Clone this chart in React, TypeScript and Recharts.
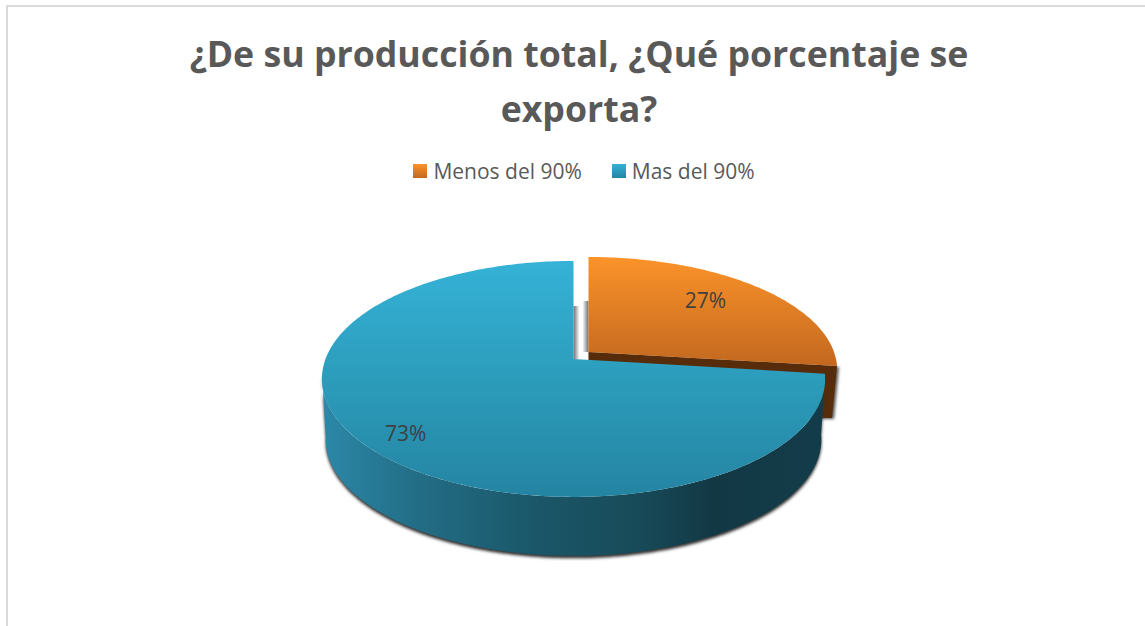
import { PieChart, Pie, Legend } from "recharts";

const CATEGORIES = ["Menos del 90%", "Mas del 90%"];
const VALUES = [27, 73];

const TITLE_LINES = ["¿De su producción total, ¿Qué porcentaje se", "exporta?"];

const chartData = CATEGORIES.map((name, i) => ({ name, value: VALUES[i] }));

const W = 1145;
const H = 626;
const CX = 573.5;
const CY = 359;
const R = 248;
const FONT = "'Open Sans', sans-serif";

// the look of each slice: how it is pulled out and how the perspective squashes it
const ORANGE = { dx: 15, dy: -7, scale: 0.99, a: 110, k: 0.158, bottomScale: 0.98, depth: 52 };
const BLUE = { dx: 0, dy: 0, scale: 1, a: 114.6, k: 0.169, bottomScale: 0.985, depth: 61 };

// circle in the pie's plane -> screen, angle clockwise from 12 o'clock
function project(cfg: typeof BLUE, cx: number, cy: number, deg: number, f = 1, s = 1) {
  const t = (deg * Math.PI) / 180;
  const u = Math.sin(t) * f;
  const v = -Math.cos(t) * f;
  const d = 1 - cfg.k * v;
  return { x: cx + (R * cfg.scale * s * u) / d, y: cy + (cfg.a * s * v) / d };
}

function arcPoints(cfg: typeof BLUE, cx: number, cy: number, from: number, to: number, s = 1) {
  const pts: string[] = [];
  const n = Math.max(2, Math.ceil(Math.abs(to - from)));
  for (let i = 0; i <= n; i++) {
    const p = project(cfg, cx, cy, from + ((to - from) * i) / n, 1, s);
    pts.push(`${p.x.toFixed(2)},${p.y.toFixed(2)}`);
  }
  return pts;
}

const Slice3D = (props: any) => {
  const isOrange = (props.payload?.name ?? props.name) === CATEGORIES[0];
  const cfg = isOrange ? ORANGE : BLUE;
  const cx = props.cx + cfg.dx;
  const cy = props.cy + cfg.dy;
  // recharts angles run counter-clockwise from 3 o'clock
  const from = 90 - props.startAngle;
  const to = 90 - props.endAngle;
  const top = "M" + cx + "," + cy + " L" + arcPoints(cfg, cx, cy, from, to).join(" L") + " Z";

  if (isOrange) {
    const end = project(cfg, cx, cy, to);
    const wall = `M${cx},${cy} L${end.x},${end.y} L${end.x - 5},${end.y + cfg.depth} L${cx},${end.y + cfg.depth} Z`;
    return (
      <g>
        <defs>
          <linearGradient id="orangeTop" gradientUnits="userSpaceOnUse" x1={0} x2={0} y1={cy - 95} y2={cy + 14}>
            <stop offset="0" stopColor="#fc932a" />
            <stop offset="1" stopColor="#c2681f" />
          </linearGradient>
          <linearGradient id="greyWallO" x1="0" x2="1" y1="0" y2="0">
            <stop offset="0" stopColor="#ffffff" />
            <stop offset="1" stopColor="#6f6f6f" />
          </linearGradient>
          <filter id="softO" x="-20%" y="-20%" width="140%" height="140%">
            <feGaussianBlur stdDeviation="1.6" />
          </filter>
        </defs>
        <rect x={cx - 6} y={cy - 51} width={6} height={51} fill="url(#greyWallO)" />
        <path d={wall} fill="#555" filter="url(#softO)" transform="translate(2,1)" />
        <path d={wall} fill="#562c0b" />
        <path d={top} fill="url(#orangeTop)" />
      </g>
    );
  }

  const wallEnd = 262;
  const wallTop = arcPoints(cfg, cx, cy, from, wallEnd);
  const wallBottom = arcPoints(cfg, cx, cy + cfg.depth, from, wallEnd, cfg.bottomScale).reverse();
  const wall = "M" + wallTop.join(" L") + " L" + wallBottom.join(" L") + " Z";
  return (
    <g>
      <defs>
        <linearGradient id="blueTop" gradientUnits="userSpaceOnUse" x1={0} x2={0} y1={cy - 98} y2={cy + 139}>
          <stop offset="0" stopColor="#35b2d7" />
          <stop offset="0.5" stopColor="#2c9cbb" />
          <stop offset="1" stopColor="#2484a2" />
        </linearGradient>
        <linearGradient id="blueWall" gradientUnits="userSpaceOnUse" x1={cx - 250} x2={cx + 250} y1={0} y2={0}>
          <stop offset="0" stopColor="#2b88a8" />
          <stop offset="0.18" stopColor="#236e87" />
          <stop offset="0.42" stopColor="#1a5769" />
          <stop offset="0.62" stopColor="#184b5a" />
          <stop offset="0.78" stopColor="#123844" />
          <stop offset="1" stopColor="#133c4a" />
        </linearGradient>
        <linearGradient id="greyWallB" x1="0" x2="1" y1="0" y2="0">
          <stop offset="0" stopColor="#6f6f6f" />
          <stop offset="1" stopColor="#ffffff" />
        </linearGradient>
        <filter id="softB" x="-5%" y="-10%" width="110%" height="120%">
          <feGaussianBlur stdDeviation="1.8" />
        </filter>
      </defs>
      <rect x={cx} y={cy - 53} width={6} height={53} fill="url(#greyWallB)" />
      <path d={wall} fill="#333" filter="url(#softB)" transform="translate(0,2.5)" />
      <path d={wall} fill="url(#blueWall)" />
      <path d={top} fill="url(#blueTop)" />
    </g>
  );
};

const renderLabel = (props: any) => {
  const isOrange = props.name === CATEGORIES[0];
  const cfg = isOrange ? ORANGE : BLUE;
  const p = project(cfg, props.cx + cfg.dx, props.cy + cfg.dy, 90 - props.midAngle, isOrange ? 0.68 : 0.82);
  return (
    <text
      x={p.x}
      y={p.y + (isOrange ? -6 : 6)}
      fill="#404040"
      fontSize={21}
      fontFamily={FONT}
      textAnchor="middle"
      dominantBaseline="central"
    >
      {`${Math.round(props.percent * 100)}%`}
    </text>
  );
};

const SWATCHES = [
  "linear-gradient(#fc932a, #c2681f)",
  "linear-gradient(#35b2d7, #2484a2)",
];

const renderLegend = () => (
  <div
    style={{
      display: "flex",
      justifyContent: "center",
      gap: 29,
      fontFamily: FONT,
      fontSize: 21,
      color: "#595959",
      lineHeight: "28px",
    }}
  >
    {CATEGORIES.map((c, i) => (
      <span key={c} style={{ display: "inline-flex", alignItems: "center", gap: 6 }}>
        <span style={{ width: 14, height: 14, marginLeft: 1, background: SWATCHES[i], display: "inline-block" }} />
        {c}
      </span>
    ))}
  </div>
);

export default function App() {
  return (
    <div style={{ position: "absolute", left: 0, top: 0, width: W, height: H, background: "#fff", overflow: "hidden" }}>
      <div style={{ position: "absolute", left: 6, top: 5, right: 0, height: 2, background: "#d9d9d9" }} />
      <div style={{ position: "absolute", left: 6, top: 5, bottom: 0, width: 2, background: "#d9d9d9" }} />
      <div
        style={{
          position: "absolute",
          left: 0,
          top: 26,
          width: 1158,
          textAlign: "center",
          fontFamily: FONT,
          fontWeight: 700,
          fontSize: 35.7,
          lineHeight: "55px",
          color: "#595959",
        }}
      >
        {TITLE_LINES.map((t) => (
          <div key={t}>{t}</div>
        ))}
      </div>
      <PieChart width={W} height={H} margin={{ top: 0, right: 0, bottom: 0, left: 0 }} style={{ position: "absolute", left: 0, top: 0 }}>
        <Legend
          content={renderLegend}
          layout="horizontal"
          align="center"
          verticalAlign="middle"
          wrapperStyle={{ position: "absolute", top: 157, left: 0, width: 1167 }}
        />
        <Pie
          data={chartData}
          dataKey="value"
          nameKey="name"
          cx={CX}
          cy={CY}
          outerRadius={R}
          startAngle={90}
          endAngle={-270}
          stroke="none"
          shape={Slice3D}
          label={renderLabel}
          labelLine={false}
          isAnimationActive={false}
        />
      </PieChart>
    </div>
  );
}
